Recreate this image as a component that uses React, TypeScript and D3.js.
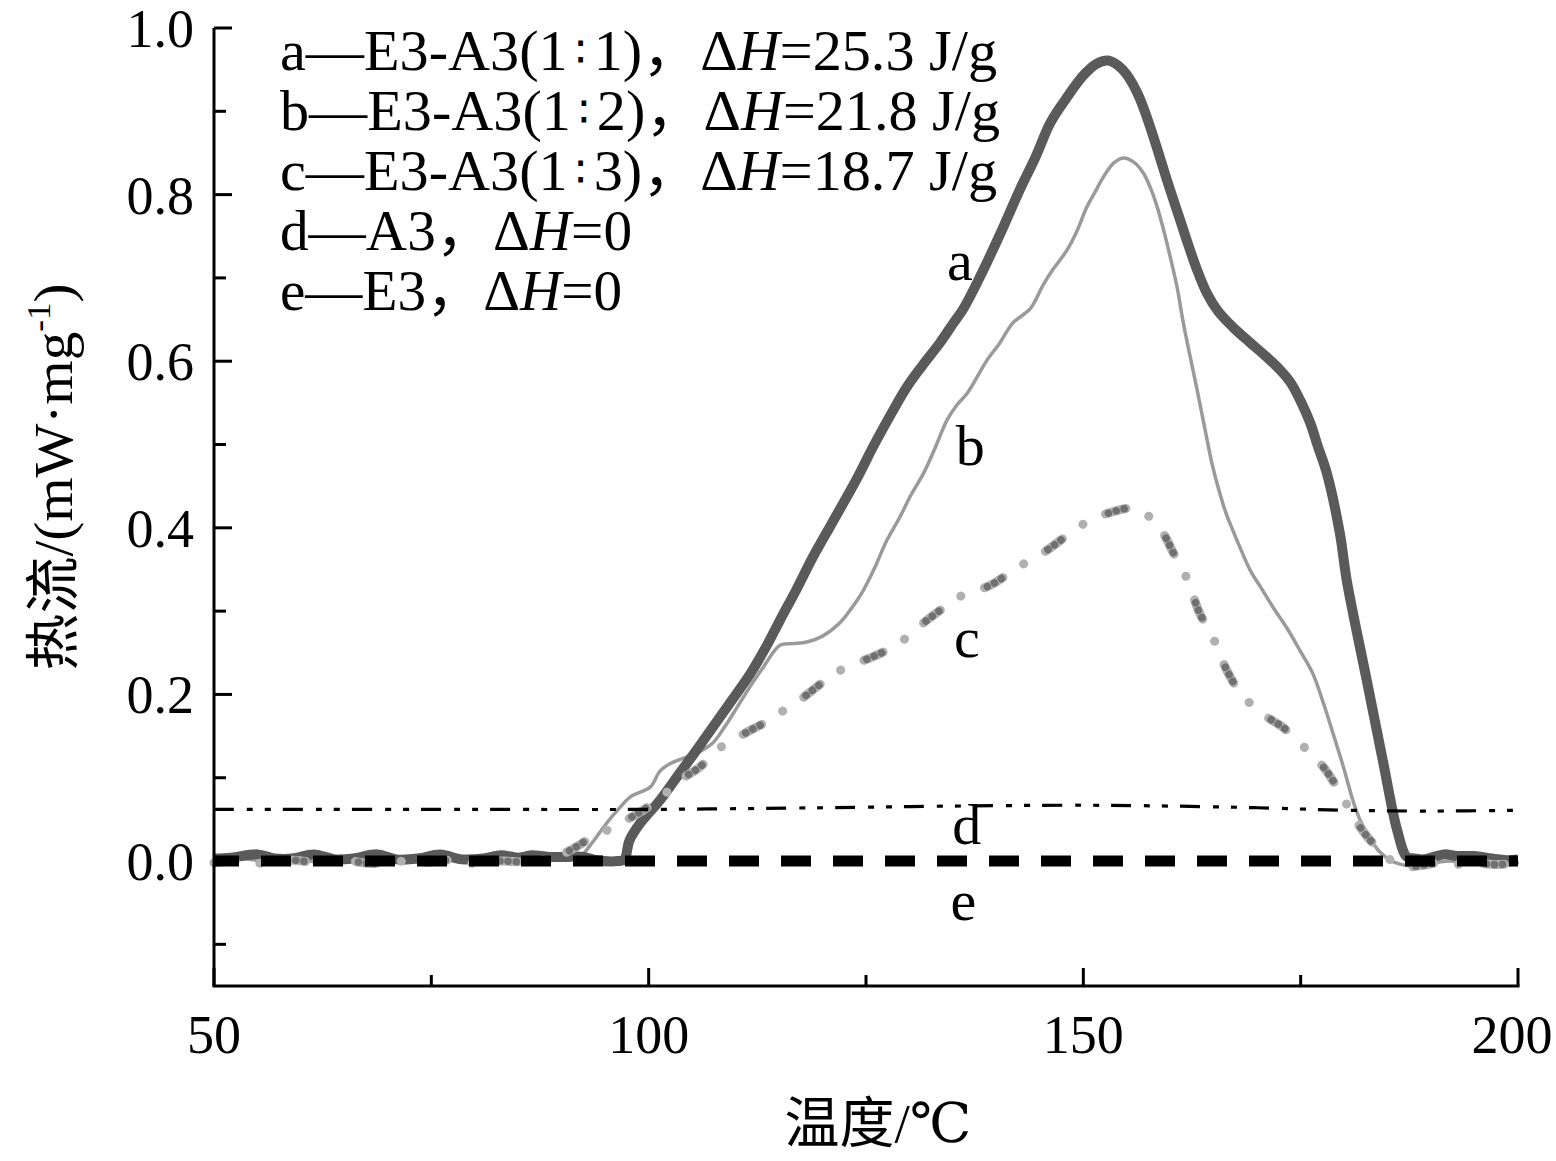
import React from "react";
import * as d3 from "d3";

// ---------- data ----------
const aT = [50, 52, 55, 57, 59, 61.5, 64, 66, 68.8, 71, 73.5, 76, 78.5, 81, 83, 85, 86.5, 88.5, 90.5, 92.5, 94, 96.5, 97.2, 97.8, 99, 101.3, 103.6, 105.5, 107.4, 109.5, 111.7, 113.5, 115.1, 117, 118.9, 121, 124, 125.8, 127.8, 129.7, 131.5, 133.5, 135, 136.2, 138.1, 140.4, 142.7, 144.5, 146.2, 148, 150, 151.5, 152.8, 154, 155, 156.3, 157.3, 158.5, 159.6, 160.8, 161.9, 163, 164.2, 165.5, 167.2, 169, 171.1, 172.5, 173.8, 175, 176.1, 177, 178, 179.5, 180.3, 182.6, 184.5, 186.1, 187.2, 188, 189, 190, 191.5, 193, 195, 197, 199, 200];
const aV = [0.003, 0.004, 0.008, 0.003, 0.003, 0.008, 0.002, 0.003, 0.008, 0.002, 0.003, 0.008, 0.002, 0.003, 0.007, 0.004, 0.007, 0.005, 0.005, 0.005, 0.001, 0.0, 0.002, 0.025, 0.045, 0.073, 0.106, 0.133, 0.161, 0.192, 0.225, 0.257, 0.289, 0.326, 0.365, 0.404, 0.46, 0.497, 0.535, 0.569, 0.595, 0.622, 0.645, 0.663, 0.701, 0.752, 0.806, 0.845, 0.886, 0.915, 0.943, 0.957, 0.961, 0.955, 0.944, 0.92, 0.893, 0.855, 0.818, 0.78, 0.745, 0.712, 0.682, 0.66, 0.641, 0.624, 0.605, 0.591, 0.575, 0.552, 0.526, 0.497, 0.466, 0.394, 0.337, 0.217, 0.118, 0.037, 0.005, 0.003, 0.002, 0.004, 0.008, 0.006, 0.006, 0.003, 0.001, 0.002];

const bT = [50, 53, 56, 59, 62, 65, 68, 71, 74, 77, 80, 83, 86, 89, 91, 92.1, 93.5, 95.2, 96.5, 97.9, 100.2, 101.3, 102.5, 104.4, 106, 107.4, 108.8, 110.2, 111.7, 113.2, 115.1, 116.5, 118.2, 120, 122, 123.3, 124.7, 126, 127.4, 128.9, 130.2, 131.6, 133, 134.3, 135.5, 136.6, 138, 138.9, 140.4, 141.9, 143.9, 145.4, 146.5, 148.1, 149.3, 150.4, 151.5, 152.3, 153.5, 154.6, 155.8, 156.9, 157.8, 158.5, 159.3, 160, 160.8, 161.5, 162.3, 163.1, 164, 164.8, 165.6, 166.4, 167.2, 168.2, 169.2, 170.5, 171.8, 173.4, 174.9, 176.4, 177.6, 178.7, 180, 181, 181.8, 182.6, 184, 185.3, 186.5, 188, 190, 192, 194, 196, 198, 200];
const bV = [0.001, 0.003, 0.0, 0.002, -0.001, 0.002, 0.0, 0.003, -0.001, 0.002, 0.0, 0.002, -0.002, 0.001, 0.002, 0.005, 0.022, 0.046, 0.062, 0.077, 0.089, 0.108, 0.117, 0.125, 0.132, 0.142, 0.162, 0.185, 0.21, 0.233, 0.259, 0.261, 0.263, 0.27, 0.286, 0.303, 0.325, 0.352, 0.385, 0.413, 0.44, 0.465, 0.497, 0.529, 0.548, 0.561, 0.585, 0.601, 0.622, 0.646, 0.663, 0.692, 0.71, 0.733, 0.757, 0.785, 0.806, 0.821, 0.838, 0.844, 0.839, 0.826, 0.806, 0.785, 0.755, 0.725, 0.688, 0.646, 0.605, 0.565, 0.518, 0.477, 0.445, 0.418, 0.397, 0.372, 0.349, 0.327, 0.305, 0.28, 0.253, 0.225, 0.19, 0.154, 0.11, 0.073, 0.05, 0.034, 0.012, 0.001, -0.004, -0.006, -0.003, 0.0, -0.002, -0.004, -0.005, -0.004];

const cT = [50, 53, 56, 59, 62, 65, 68, 71, 74, 77, 80, 83, 86, 88, 90, 91.5, 92.9, 95.2, 97.9, 99.8, 101.8, 103.6, 105.9, 108.2, 110, 111.7, 113.5, 115.1, 117, 118.6, 120.2, 121.7, 123.5, 125.5, 127.2, 128.9, 130.5, 132, 133.8, 135.5, 137.5, 139.3, 141, 142.4, 144, 145.8, 147.5, 149.3, 150.6, 151.9, 153.3, 154.8, 155.8, 156.9, 157.9, 158.8, 159.6, 160.3, 161.5, 162.5, 163.4, 164.8, 165.6, 166.5, 167.4, 168.4, 169.8, 171.1, 172.9, 174.9, 176.2, 177.6, 178.8, 179.9, 180.7, 181.5, 183, 184.5, 186.1, 187.5, 189, 191, 193, 195, 197, 200];
const cV = [-0.002, 0.0, -0.003, 0.001, -0.002, 0.001, -0.003, 0.0, -0.002, 0.001, -0.003, 0.0, -0.001, 0.002, 0.008, 0.016, 0.025, 0.037, 0.052, 0.064, 0.08, 0.097, 0.113, 0.136, 0.147, 0.157, 0.167, 0.178, 0.19, 0.203, 0.216, 0.227, 0.236, 0.244, 0.252, 0.262, 0.276, 0.289, 0.303, 0.316, 0.324, 0.331, 0.342, 0.352, 0.362, 0.373, 0.386, 0.4, 0.408, 0.414, 0.419, 0.423, 0.423, 0.419, 0.41, 0.4, 0.386, 0.371, 0.349, 0.322, 0.297, 0.271, 0.25, 0.229, 0.212, 0.197, 0.184, 0.173, 0.161, 0.142, 0.128, 0.113, 0.095, 0.076, 0.06, 0.046, 0.025, 0.01, -0.005, -0.007, -0.005, -0.002, -0.004, -0.002, -0.004, -0.003];

const dT = [50, 80, 100, 120, 135, 150, 160, 170, 180, 190, 200];
const dV = [0.062, 0.062, 0.062, 0.064, 0.066, 0.067, 0.066, 0.064, 0.061, 0.06, 0.061];

const eT = [50, 200];
const eV = [0, 0];

const xMajor = [50, 100, 150, 200];
const xMinor = [75, 125, 175];
const yMajor = [0, 0.2, 0.4, 0.6, 0.8, 1.0];
const yMinor = [-0.1, 0.1, 0.3, 0.5, 0.7, 0.9];

const legendLines = [
  { name: "a—E3-A3(1", ratio: "1", post: "=25.3 J/g", width: 717 },
  { name: "b—E3-A3(1", ratio: "2", post: "=21.8 J/g", width: 720 },
  { name: "c—E3-A3(1", ratio: "3", post: "=18.7 J/g", width: 717 },
  { name: "d—A3", ratio: "", post: "=0", width: 352 },
  { name: "e—E3", ratio: "", post: "=0", width: 342 },
];

const curveLabels = [
  { t: "a", T: 135.8, v: 0.698 },
  { t: "b", T: 137.0, v: 0.476 },
  { t: "c", T: 136.6, v: 0.245 },
  { t: "d", T: 136.6, v: 0.02 },
  { t: "e", T: 136.2, v: -0.071 },
];

const FONT = "'Liberation Serif','Times New Roman','DejaVu Serif','Noto Sans CJK SC',serif";

export default function App() {
  const W = 1556;
  const H = 1161;
  const x = d3.scaleLinear().domain([50, 200]).range([214, 1518]);
  const y = d3.scaleLinear().domain([-0.15, 1.0]).range([986, 28]);

  const mk = (T: number[], V: number[]) =>
    d3
      .line<number>()
      .x((_, i) => x(T[i]))
      .y((v) => y(v))
      .curve(d3.curveCatmullRom.alpha(0.5))(V) as string;

  const pa = mk(aT, aV);
  const pb = mk(bT, bV);
  const pc = mk(cT, cV);
  const pd = mk(dT, dV);
  const pe = mk(eT, eV);

  const x0 = x(50);
  const y0 = y(-0.15);

  return (
    <div>
      <style>{`body{margin:0;background:#fff}`}</style>
      <svg width={W} height={H} viewBox={`0 0 ${W} ${H}`} style={{ display: "block" }}>
        <rect x={0} y={0} width={W} height={H} fill="#fff" />

        {/* curves */}
        <path d={pb} fill="none" stroke="#9a9a9a" strokeWidth={3.5} strokeLinejoin="round" />
        <path d={pa} fill="none" stroke="#5a5a5a" strokeWidth={10} strokeLinejoin="round" />
        <path
          d={pc}
          fill="none"
          stroke="#b0b0b0"
          strokeWidth={9}
          strokeLinecap="round"
          strokeDasharray="21 25 0.1 25"
        />
        <path
          d={pc}
          fill="none"
          stroke="#707070"
          strokeWidth={7.5}
          strokeLinecap="round"
          strokeDasharray="0.1 8 0.1 8 0.1 54.8"
          strokeDashoffset={-3}
        />
        <path
          d={pd}
          fill="none"
          stroke="#000"
          strokeWidth={3.2}
          strokeDasharray="20 13 6 12 6 12"
        />
        <path d={pe} fill="none" stroke="#000" strokeWidth={11} strokeDasharray="30 22" strokeDashoffset={5} />

        {/* axes */}
        <line x1={x0} y1={y(1.0)} x2={x0} y2={y0} stroke="#000" strokeWidth={3} />
        <line x1={x0 - 1.5} y1={y0} x2={x(200) + 1.5} y2={y0} stroke="#000" strokeWidth={3} />
        {yMajor.map((v) => (
          <g key={"ym" + v}>
            <line x1={x0} x2={x0 + 18} y1={y(v)} y2={y(v)} stroke="#000" strokeWidth={3} />
            <text
              x={x0 - 20}
              y={y(v) + 19}
              textAnchor="end"
              fontFamily={FONT}
              fontSize={54}
              fill="#000"
            >
              {v.toFixed(1)}
            </text>
          </g>
        ))}
        {yMinor.map((v) => (
          <line key={"yn" + v} x1={x0} x2={x0 + 12} y1={y(v)} y2={y(v)} stroke="#000" strokeWidth={3} />
        ))}
        {xMajor.map((t) => (
          <g key={"xm" + t}>
            <line x1={x(t)} x2={x(t)} y1={y0} y2={y0 - 18} stroke="#000" strokeWidth={3} />
            <text x={x(t) - (t === 200 ? 6 : 0)} y={1053} textAnchor="middle" fontFamily={FONT} fontSize={54} fill="#000">
              {t}
            </text>
          </g>
        ))}
        {xMinor.map((t) => (
          <line key={"xn" + t} x1={x(t)} x2={x(t)} y1={y0} y2={y0 - 11} stroke="#000" strokeWidth={3} />
        ))}

        {/* axis titles */}
        <text x={878} y={1142} textAnchor="middle" fontFamily={FONT} fontSize={55} fill="#000">
          温度/℃
        </text>
        <text
          transform="translate(72,477) rotate(-90)"
          textAnchor="middle"
          fontFamily={FONT}
          fontSize={55}
          fill="#000"
          textLength={387}
          lengthAdjust="spacingAndGlyphs"
        >
          热流/(mW·mg
          <tspan fontSize={34} dy={-22}>
            -1
          </tspan>
          <tspan dy={22}>)</tspan>
        </text>

        {/* legend */}
        {legendLines.map((l, i) => (
          <text
            key={"lg" + i}
            x={280}
            y={70 + i * 60}
            fontFamily={FONT}
            fontSize={57}
            fill="#000"
            textLength={l.width}
            lengthAdjust="spacingAndGlyphs"
          >
            {l.name}
            {l.ratio !== "" && (
              <>
                <tspan fontFamily="'DejaVu Sans'" fontSize={44} dx={7} dy={-3}>∶</tspan>
                <tspan dx={7} dy={3}>{l.ratio + ")"}</tspan>
              </>
            )}
            ，Δ<tspan fontStyle="italic">H</tspan>
            {l.post}
          </text>
        ))}

        {/* curve labels */}
        {curveLabels.map((c) => (
          <text
            key={"cl" + c.t}
            x={x(c.T)}
            y={y(c.v)}
            textAnchor="middle"
            fontFamily={FONT}
            fontSize={58}
            fill="#000"
          >
            {c.t}
          </text>
        ))}
      </svg>
    </div>
  );
}
